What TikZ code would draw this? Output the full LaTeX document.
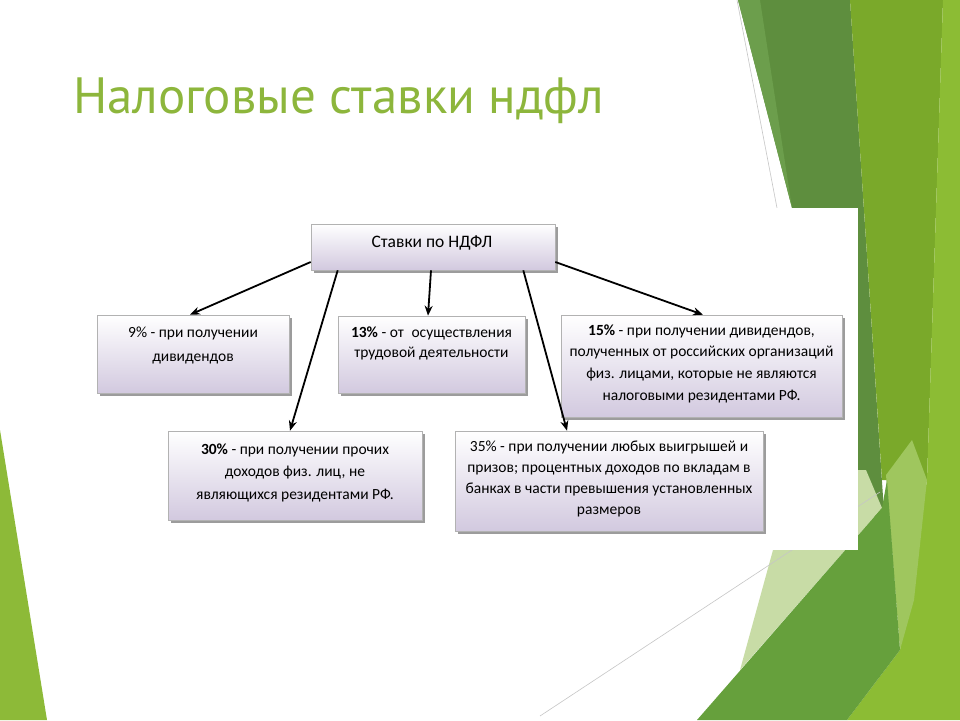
\documentclass[tikz,border=0pt]{standalone}
\usepackage{fontspec}
\setmainfont{Carlito}
\newfontfamily\titlefont{PT Sans}
\usetikzlibrary{shadows,arrows.meta}
\definecolor{titlegreen}{HTML}{8DB63C}
\definecolor{gdark}{HTML}{5E8E3E}
\definecolor{gstrip}{HTML}{6C9E4C}
\definecolor{gmid}{HTML}{7AA92A}
\definecolor{gbright}{HTML}{8CBC34}
\definecolor{gleft}{HTML}{8DBA38}
\definecolor{gmed}{HTML}{66A03C}
\definecolor{gpale}{HTML}{C8DCA6}
\definecolor{gpalestrip}{HTML}{9FC65E}
\definecolor{lav}{HTML}{D2C9DF}
\begin{document}
\begin{tikzpicture}[x=1pt,y=-1pt,
  ratebox/.style={draw=gray!60, line width=0.6pt, top color=white, bottom color=lav,
    drop shadow={shadow xshift=2.5pt,shadow yshift=-2.5pt,fill=black!55,opacity=0.7},
    inner sep=0pt},
  ratetext/.style={align=center, inner sep=0pt, text=black},
  arr/.style={line width=1.8pt, -{Stealth[length=10pt,width=8pt]}},
  thinline/.style={draw=gray!45, line width=0.6pt}]
\useasboundingbox (0,0) rectangle (960,720);
\fill[white] (0,0) rectangle (960,720);
% left decoration
\fill[gleft] (0,430) -- (47,720) -- (0,720) -- cycle;
% right decoration
\fill[gdark] (738,0) -- (850,0) -- (887,557) -- (858,470) -- (792,208) -- cycle;
\fill[gstrip] (738,0) -- (760,0) -- (792,208) -- cycle;
\fill[gmid] (850,0) -- (943,0) -- (927,480) -- (882,480) -- cycle;
\fill[gbright] (943,0) -- (960,0) -- (960,720) -- (847,720) -- (900,650) -- (927,480) -- cycle;
\fill[gpalestrip] (886,475) -- (912,440) -- (927,480) -- (914,600) -- (900,650) -- cycle;
\fill[gpale] (795,470) -- (866,470) -- (882,508) -- (740,670) -- cycle;
\fill[gmed] (697,720) -- (882,508) -- (887,480) -- (900,650) -- (847,720) -- cycle;
\draw[thinline] (737,0) -- (777,208);
\draw[thinline] (540,716) -- (880,492);
% diagram image background
\fill[white] (85,208) rectangle (858,550);
% title
\node[anchor=west, text=titlegreen, font=\titlefont\fontsize{51}{56}\selectfont, inner sep=0pt] (title) at (73,101) {Налоговые ставки ндфл};
% boxes
\node[ratebox, minimum width=244pt, minimum height=46pt] (top) at (433,247) {};
\node[ratetext, font=\fontsize{17.5}{20}\selectfont] (ttop) at (432,243) {Ставки по НДФЛ};
\node[ratebox, minimum width=192pt, minimum height=78pt] (b9) at (193,354) {};
\node[ratetext, font=\fontsize{15.5}{24}\selectfont] (t9) at (193,345) {9\% - при получении\\дивидендов};
\node[ratebox, minimum width=187pt, minimum height=77pt] (b13) at (431.5,354.5) {};
\node[ratetext, font=\fontsize{15.5}{20}\selectfont] (t13) at (431.5,343) {\textbf{13\%} - от\enspace осуществления\\трудовой деятельности};
\node[ratebox, minimum width=281pt, minimum height=102pt] (b15) at (701.5,366) {};
\node[ratetext, font=\fontsize{15.5}{21.7}\selectfont] (t15) at (701.5,363.5) {\textbf{15\%} - при получении дивидендов,\\полученных от российских организаций\\физ. лицами, которые не являются\\налоговыми резидентами РФ.};
\node[ratebox, minimum width=254pt, minimum height=89pt] (b30) at (295,475.5) {};
\node[ratetext, font=\fontsize{15.5}{22.5}\selectfont] (t30) at (295,472.5) {\textbf{30\%} - при получении прочих\\доходов физ. лиц, не\\являющихся резидентами РФ.};
\node[ratebox, minimum width=308pt, minimum height=100pt] (b35) at (609,481) {};
\node[ratetext, font=\fontsize{15.5}{21.3}\selectfont] (t35) at (609,479) {35\% - при получении любых выигрышей и\\призов; процентных доходов по вкладам в\\банках в части превышения установленных\\размеров};
% arrows
\draw[arr] ([yshift=-15pt]top.west) -- ([xshift=-3pt]b9.north);
\draw[arr] ([xshift=27pt]top.south west) -- ([xshift=-5pt]b30.north);
\draw[arr] ([xshift=-2pt]top.south) -- ([xshift=-3.5pt]b13.north);
\draw[arr] ([xshift=-32pt]top.south east) -- ([xshift=-42pt]b35.north);
\draw[arr] ([yshift=-15pt]top.east) -- ([xshift=1.5pt]b15.north);
\end{tikzpicture}
\end{document}
